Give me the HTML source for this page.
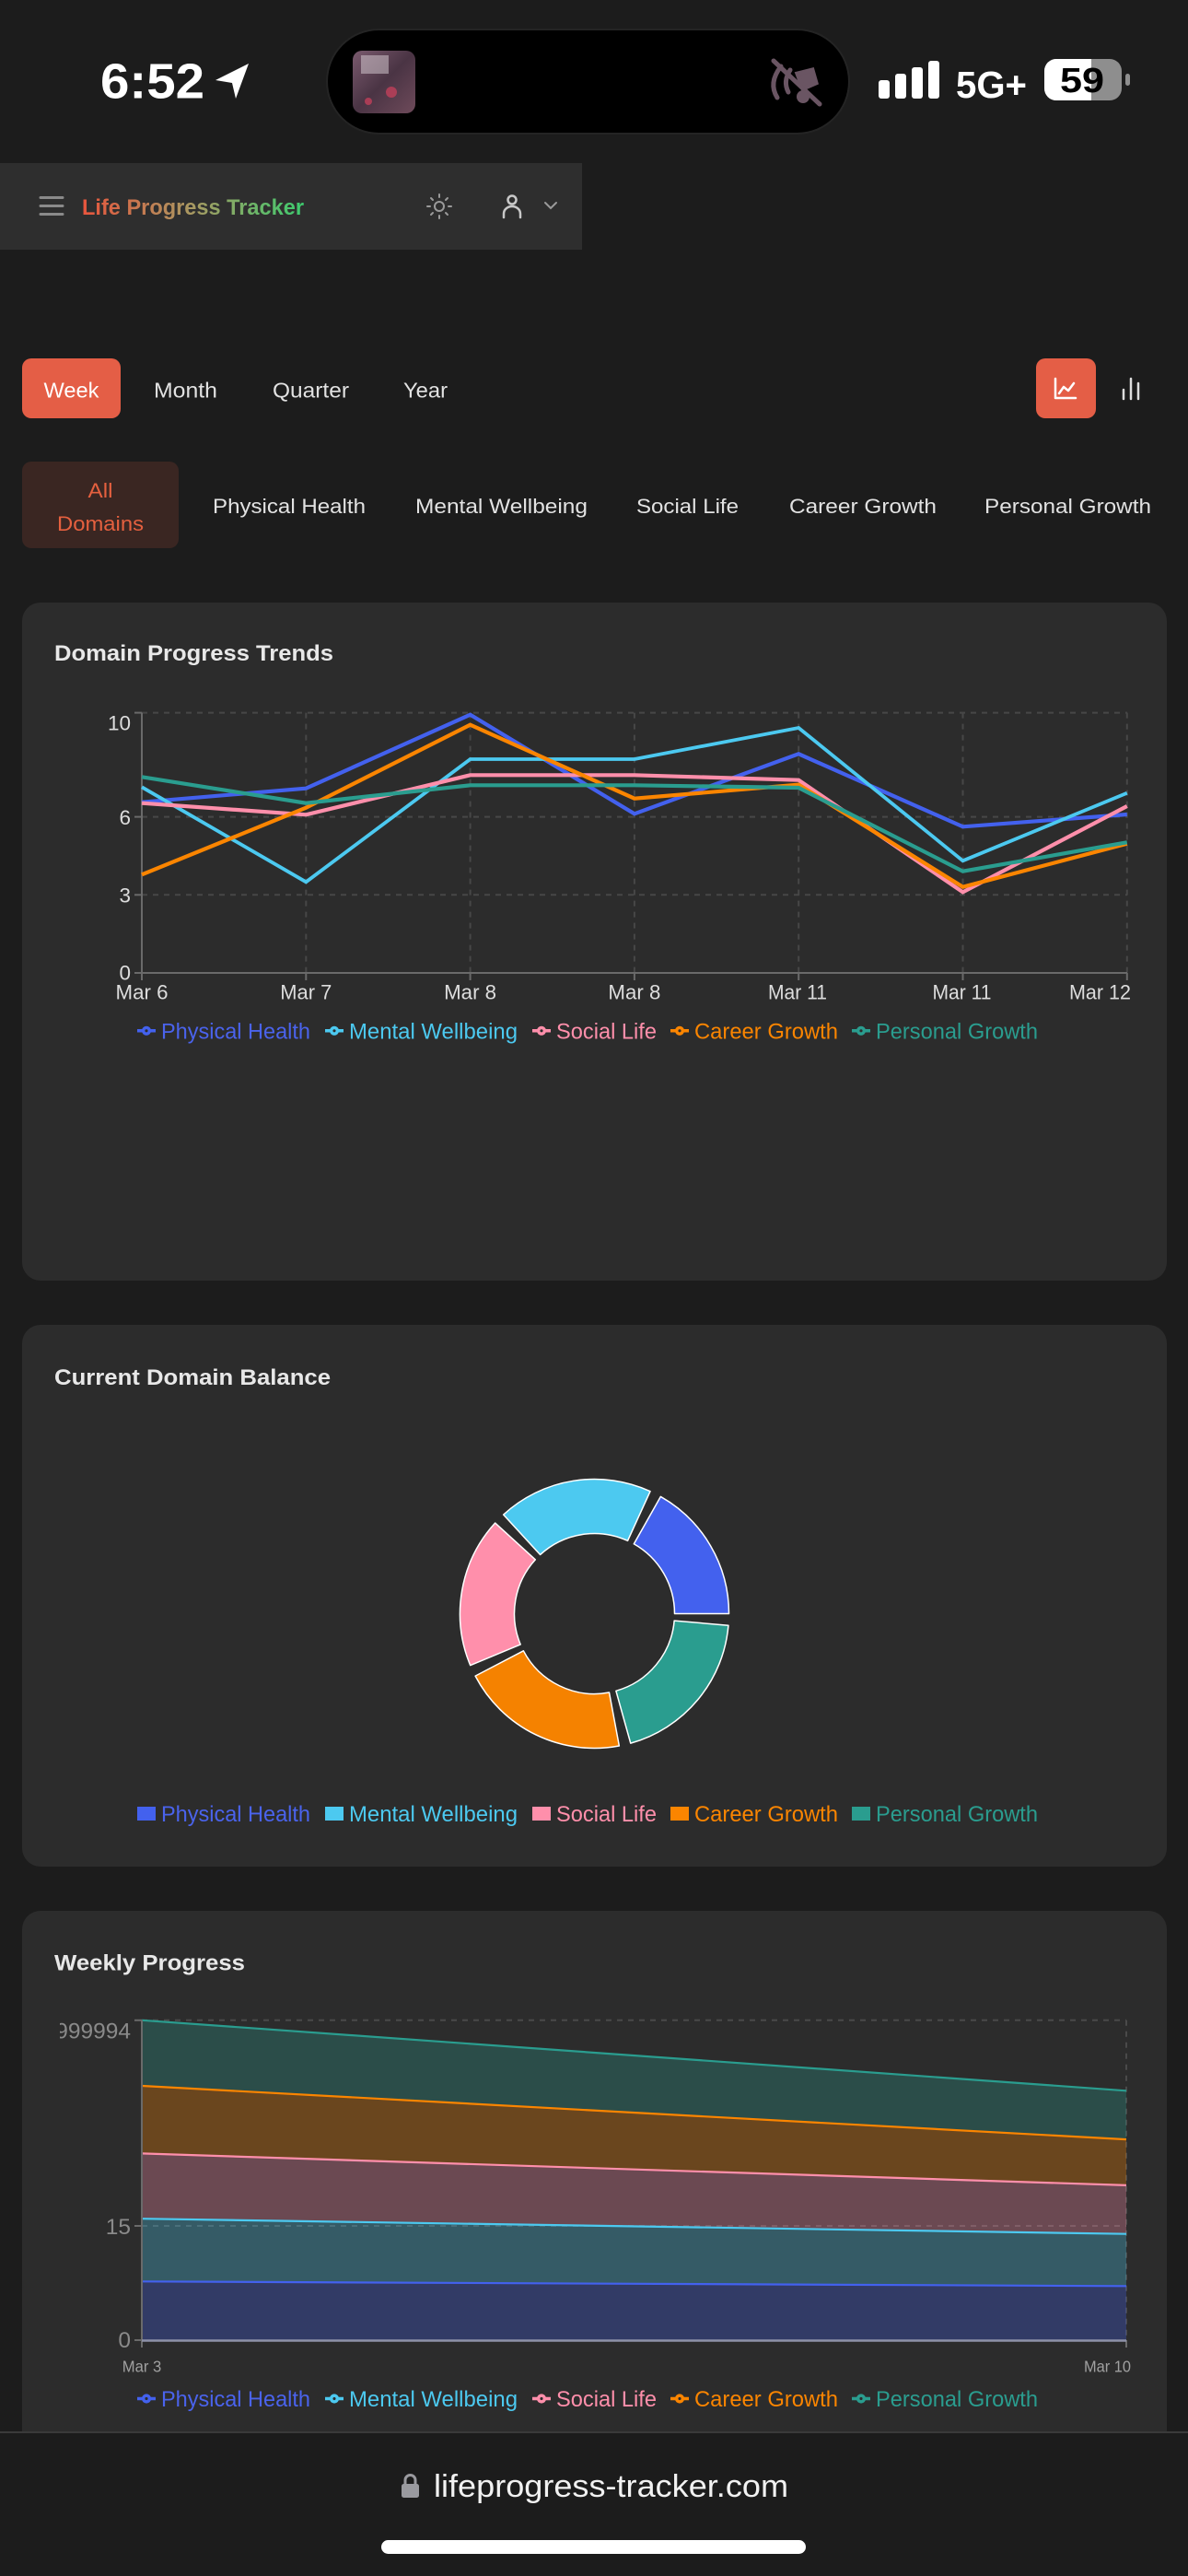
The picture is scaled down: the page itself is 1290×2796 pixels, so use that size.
<!DOCTYPE html>
<html>
<head>
<meta charset="utf-8">
<style>
  html,body{margin:0;padding:0;background:#1c1c1c;}
  body{width:1290px;height:2796px;overflow:hidden;}
  svg{display:block;}
</style>
</head>
<body>
<svg width="1290" height="2796" viewBox="0 0 1290 2796" xmlns="http://www.w3.org/2000/svg" font-family="'Liberation Sans', sans-serif">
  <defs>
    <linearGradient id="tg" gradientUnits="userSpaceOnUse" x1="89" y1="0" x2="330" y2="0">
      <stop offset="0" stop-color="#e8553d"/>
      <stop offset="0.5" stop-color="#a89a62"/>
      <stop offset="1" stop-color="#3dcb6e"/>
    </linearGradient>
    <linearGradient id="art" x1="0" y1="0" x2="1" y2="1">
      <stop offset="0" stop-color="#7a5a6e"/>
      <stop offset="0.5" stop-color="#4a3444"/>
      <stop offset="1" stop-color="#6e4a5a"/>
    </linearGradient>
    <clipPath id="c3"><rect x="65" y="2170" width="1190" height="460"/></clipPath>
  </defs>

  <!-- page bg -->
  <rect x="0" y="0" width="1290" height="2796" fill="#1c1c1c"/>

  <!-- ===== STATUS BAR ===== -->
  <text x="109" y="106.5" font-size="54" font-weight="bold" fill="#ffffff" textLength="113" lengthAdjust="spacingAndGlyphs">6:52</text>
  <polygon points="270,69 234,87 252,90 256,107" fill="#ffffff"/>
  <!-- dynamic island -->
  <rect x="354" y="31" width="569" height="115" rx="57.5" fill="#242424"/>
  <rect x="356" y="33" width="565" height="111" rx="55.5" fill="#000000"/>
  <rect x="383" y="55" width="68" height="68" rx="10" fill="url(#art)"/>
  <rect x="392" y="60" width="30" height="20" fill="#d9cfd6" opacity="0.5"/>
  <circle cx="425" cy="100" r="6" fill="#c0405a" opacity="0.8"/>
  <circle cx="400" cy="110" r="4" fill="#c0405a" opacity="0.8"/>
  <!-- muted icon -->
  <g stroke="#6a5563" stroke-width="5" fill="none" stroke-linecap="round">
    <path d="M848 72 q-14 18 -4 34"/>
    <path d="M858 76 q-8 12 -2 24"/>
    <path d="M866 80 l16 -4 l4 14 l-14 6 z" fill="#6a5563"/>
    <line x1="840" y1="66" x2="890" y2="113"/>
  </g>
  <circle cx="872" cy="105" r="7" fill="#6a5563"/>
  <!-- signal -->
  <rect x="954" y="87" width="12" height="20" rx="3" fill="#fff"/>
  <rect x="972" y="80" width="12" height="27" rx="3" fill="#fff"/>
  <rect x="990" y="73" width="12" height="34" rx="3" fill="#fff"/>
  <rect x="1008" y="66" width="12" height="41" rx="3" fill="#fff"/>
  <text x="1038" y="106" font-size="41" font-weight="bold" fill="#fff" textLength="77" lengthAdjust="spacingAndGlyphs">5G+</text>
  <!-- battery -->
  <rect x="1134" y="64" width="84" height="45" rx="13" fill="#8e8e8e"/>
  <path d="M1147 64 H1185 V109 H1147 A13 13 0 0 1 1134 96 V77 A13 13 0 0 1 1147 64 Z" fill="#ffffff"/>
  <rect x="1222" y="80" width="5" height="13" rx="2.5" fill="#8e8e8e"/>
  <text x="1175" y="100" font-size="38" font-weight="bold" fill="#000" text-anchor="middle" textLength="48" lengthAdjust="spacingAndGlyphs">59</text>

  <!-- ===== HEADER ===== -->
  <rect x="0" y="177" width="632" height="94" fill="#2e2e2e"/>
  <g stroke="#8a8a8a" stroke-width="3" stroke-linecap="round">
    <line x1="44" y1="214.5" x2="68" y2="214.5"/>
    <line x1="44" y1="223.5" x2="68" y2="223.5"/>
    <line x1="44" y1="232.5" x2="68" y2="232.5"/>
  </g>
  <text x="89" y="233" font-size="24.5" font-weight="bold" fill="url(#tg)" textLength="241" lengthAdjust="spacingAndGlyphs">Life Progress Tracker</text>
  <!-- sun -->
  <g stroke="#9a9a9a" stroke-width="2" fill="none" stroke-linecap="round">
    <circle cx="477" cy="224" r="5"/>
    <line x1="477" y1="211" x2="477" y2="214"/>
    <line x1="477" y1="234" x2="477" y2="237"/>
    <line x1="464" y1="224" x2="467" y2="224"/>
    <line x1="487" y1="224" x2="490" y2="224"/>
    <line x1="468" y1="215" x2="470" y2="217"/>
    <line x1="484" y1="231" x2="486" y2="233"/>
    <line x1="486" y1="215" x2="484" y2="217"/>
    <line x1="470" y1="231" x2="468" y2="233"/>
  </g>
  <!-- user -->
  <g stroke="#c8c8c8" stroke-width="2.5" fill="none" stroke-linecap="round">
    <circle cx="556" cy="217" r="4.5"/>
    <path d="M547 236 V232 A9 8 0 0 1 565 232 V236"/>
  </g>
  <polyline points="592,220 598,226 604,220" stroke="#9a9a9a" stroke-width="2" fill="none" stroke-linecap="round"/>

  <!-- ===== PERIOD BUTTONS ===== -->
  <rect x="24" y="389" width="107" height="65" rx="10" fill="#e45e46"/>
  <text x="77.5" y="431.5" font-size="23" fill="#ffffff" text-anchor="middle" textLength="60" lengthAdjust="spacingAndGlyphs">Week</text>
  <text x="167" y="431.5" font-size="23" fill="#e2e2e2" textLength="69" lengthAdjust="spacingAndGlyphs">Month</text>
  <text x="296" y="431.5" font-size="23" fill="#e2e2e2" textLength="83" lengthAdjust="spacingAndGlyphs">Quarter</text>
  <text x="438" y="431.5" font-size="23" fill="#e2e2e2" textLength="48" lengthAdjust="spacingAndGlyphs">Year</text>
  <rect x="1125" y="389" width="65" height="65" rx="10" fill="#e45e46"/>
  <g stroke="#ffffff" stroke-width="2.5" fill="none" stroke-linecap="round" stroke-linejoin="round">
    <polyline points="1146,411 1146,432 1168,432"/>
    <polyline points="1150,427 1155,420 1160,424 1166,416"/>
  </g>
  <g stroke="#dddddd" stroke-width="2.5" stroke-linecap="round">
    <line x1="1220" y1="423" x2="1220" y2="433"/>
    <line x1="1228" y1="411" x2="1228" y2="433"/>
    <line x1="1236" y1="416" x2="1236" y2="433"/>
  </g>

  <!-- ===== DOMAIN FILTERS ===== -->
  <rect x="24" y="501" width="170" height="94" rx="10" fill="#3a2622"/>
  <text x="109" y="540" font-size="22" fill="#e5603f" text-anchor="middle" textLength="27" lengthAdjust="spacingAndGlyphs">All</text>
  <text x="109" y="576" font-size="22" fill="#e5603f" text-anchor="middle" textLength="94" lengthAdjust="spacingAndGlyphs">Domains</text>
  <text x="231" y="557" font-size="22" fill="#e2e2e2" textLength="166" lengthAdjust="spacingAndGlyphs">Physical Health</text>
  <text x="451" y="557" font-size="22" fill="#e2e2e2" textLength="187" lengthAdjust="spacingAndGlyphs">Mental Wellbeing</text>
  <text x="691" y="557" font-size="22" fill="#e2e2e2" textLength="111" lengthAdjust="spacingAndGlyphs">Social Life</text>
  <text x="857" y="557" font-size="22" fill="#e2e2e2" textLength="160" lengthAdjust="spacingAndGlyphs">Career Growth</text>
  <text x="1069" y="557" font-size="22" fill="#e2e2e2" textLength="181" lengthAdjust="spacingAndGlyphs">Personal Growth</text>

  <!-- ===== CARD 1: LINE CHART ===== -->
  <rect x="24" y="654" width="1243" height="736" rx="20" fill="#2c2c2c"/>
  <text x="59" y="717" font-size="24.5" font-weight="bold" fill="#e8e8e8" textLength="303" lengthAdjust="spacingAndGlyphs">Domain Progress Trends</text>

  <!-- grid -->
  <g stroke="#474747" stroke-width="2" stroke-dasharray="6 6" fill="none">
    <line x1="154" y1="773.6" x2="1224" y2="773.6"/>
    <line x1="154" y1="886.6" x2="1224" y2="886.6"/>
    <line x1="154" y1="971.3" x2="1224" y2="971.3"/>
    <line x1="332.3" y1="773.6" x2="332.3" y2="1056"/>
    <line x1="510.6" y1="773.6" x2="510.6" y2="1056"/>
    <line x1="688.9" y1="773.6" x2="688.9" y2="1056"/>
    <line x1="867.2" y1="773.6" x2="867.2" y2="1056"/>
    <line x1="1045.5" y1="773.6" x2="1045.5" y2="1056"/>
    <line x1="1223.8" y1="773.6" x2="1223.8" y2="1056"/>
  </g>
  <!-- axes -->
  <g stroke="#6a6a6a" stroke-width="2">
    <line x1="154" y1="773.6" x2="154" y2="1056"/>
    <line x1="154" y1="1056" x2="1224" y2="1056"/>
    <line x1="146" y1="773.6" x2="154" y2="773.6"/>
    <line x1="146" y1="886.6" x2="154" y2="886.6"/>
    <line x1="146" y1="971.3" x2="154" y2="971.3"/>
    <line x1="146" y1="1056" x2="154" y2="1056"/>
    <line x1="154" y1="1056" x2="154" y2="1064"/>
    <line x1="332.3" y1="1056" x2="332.3" y2="1064"/>
    <line x1="510.6" y1="1056" x2="510.6" y2="1064"/>
    <line x1="688.9" y1="1056" x2="688.9" y2="1064"/>
    <line x1="867.2" y1="1056" x2="867.2" y2="1064"/>
    <line x1="1045.5" y1="1056" x2="1045.5" y2="1064"/>
    <line x1="1223.8" y1="1056" x2="1223.8" y2="1064"/>
  </g>
  <!-- y tick labels -->
  <g font-size="22.5" fill="#dddddd" text-anchor="end">
    <text x="142" y="792.7">10</text>
    <text x="142" y="895">6</text>
    <text x="142" y="979.5">3</text>
    <text x="142" y="1063.5">0</text>
  </g>
  <!-- x tick labels -->
  <g font-size="22" fill="#dddddd" text-anchor="middle">
    <text x="154" y="1084.5" textLength="57" lengthAdjust="spacingAndGlyphs">Mar 6</text>
    <text x="332.3" y="1084.5" textLength="56" lengthAdjust="spacingAndGlyphs">Mar 7</text>
    <text x="510.6" y="1084.5" textLength="57" lengthAdjust="spacingAndGlyphs">Mar 8</text>
    <text x="688.9" y="1084.5" textLength="57" lengthAdjust="spacingAndGlyphs">Mar 8</text>
    <text x="866" y="1084.5" textLength="64" lengthAdjust="spacingAndGlyphs">Mar 11</text>
    <text x="1044.5" y="1084.5" textLength="64" lengthAdjust="spacingAndGlyphs">Mar 11</text>
    <text x="1228" y="1084.5" text-anchor="end" textLength="67" lengthAdjust="spacingAndGlyphs">Mar 12</text>
  </g>
  <!-- series -->
  <g fill="none" stroke-width="4.2">
    <polyline stroke="#4361ee" points="154,870.7 332.3,855.7 510.6,775.7 688.9,883.3 867.2,818.3 1045.5,897.3 1223.8,884"/>
    <polyline stroke="#4cc9f0" stroke-width="3.8" points="154,854.3 332.3,957.3 510.6,824 688.9,824 867.2,790 1045.5,934.3 1223.8,860.7"/>
    <polyline stroke="#ff8fab" points="154,871.7 332.3,884.3 510.6,841.3 688.9,841.3 867.2,846.7 1045.5,968.3 1223.8,875"/>
    <polyline stroke="#fb8500" points="154,949.3 332.3,876.7 510.6,786.7 688.9,866.7 867.2,851.7 1045.5,962.7 1223.8,915.7"/>
    <polyline stroke="#2a9d8f" points="154,843.3 332.3,871.7 510.6,852.3 688.9,852.3 867.2,855 1045.5,945.7 1223.8,914.3"/>
  </g>
  <!-- legend 1 -->
  <g fill="none" stroke-width="3.5">
    <path stroke="#4361ee" d="M149 1118.8 h6.67 A3.33 3.33 0 1 1 162.33 1118.8 H169 M162.33 1118.8 A3.33 3.33 0 1 1 155.67 1118.8"/>
    <path stroke="#4cc9f0" d="M353 1118.8 h6.67 A3.33 3.33 0 1 1 366.33 1118.8 H373 M366.33 1118.8 A3.33 3.33 0 1 1 359.67 1118.8"/>
    <path stroke="#ff8fab" d="M578 1118.8 h6.67 A3.33 3.33 0 1 1 591.33 1118.8 H598 M591.33 1118.8 A3.33 3.33 0 1 1 584.67 1118.8"/>
    <path stroke="#fb8500" d="M728 1118.8 h6.67 A3.33 3.33 0 1 1 741.33 1118.8 H748 M741.33 1118.8 A3.33 3.33 0 1 1 734.67 1118.8"/>
    <path stroke="#2a9d8f" d="M925 1118.8 h6.67 A3.33 3.33 0 1 1 938.33 1118.8 H945 M938.33 1118.8 A3.33 3.33 0 1 1 931.67 1118.8"/>
  </g>
  <g font-size="24">
    <text x="175" y="1127.3" fill="#4a63ec" textLength="162" lengthAdjust="spacingAndGlyphs">Physical Health</text>
    <text x="379" y="1127.3" fill="#4cc9f0" textLength="183" lengthAdjust="spacingAndGlyphs">Mental Wellbeing</text>
    <text x="604" y="1127.3" fill="#ff8fab" textLength="109" lengthAdjust="spacingAndGlyphs">Social Life</text>
    <text x="754" y="1127.3" fill="#fb8500" textLength="156" lengthAdjust="spacingAndGlyphs">Career Growth</text>
    <text x="951" y="1127.3" fill="#2a9d8f" textLength="176" lengthAdjust="spacingAndGlyphs">Personal Growth</text>
  </g>

  <!-- ===== CARD 2: DONUT ===== -->
  <rect x="24" y="1438" width="1243" height="588" rx="20" fill="#2c2c2c"/>
  <text x="59" y="1503" font-size="24.5" font-weight="bold" fill="#e8e8e8" textLength="300" lengthAdjust="spacingAndGlyphs">Current Domain Balance</text>
  <g stroke="#ffffff" stroke-width="1.5" stroke-linejoin="round">
    <path fill="#4361ee" d="M791.5 1751.5 A146 146 0 0 0 717.39 1624.42 L688.34 1675.78 A87 87 0 0 1 732.5 1751.5 Z"/>
    <path fill="#4cc9f0" d="M706.05 1618.64 A146 146 0 0 0 546.67 1644.03 L586.61 1687.46 A87 87 0 0 1 681.58 1672.33 Z"/>
    <path fill="#ff8fab" d="M537.69 1653.05 A146 146 0 0 0 510.71 1807.61 L565.18 1784.93 A87 87 0 0 1 581.26 1692.84 Z"/>
    <path fill="#f58200" d="M516.11 1819.14 A146 146 0 0 0 672.36 1895.00 L661.51 1837.01 A87 87 0 0 1 568.40 1791.81 Z"/>
    <path fill="#2a9d8f" d="M684.76 1892.13 A146 146 0 0 0 790.95 1764.23 L732.17 1759.09 A87 87 0 0 1 668.89 1835.30 Z"/>
  </g>
  <!-- legend 2 -->
  <rect x="149" y="1961" width="20" height="15" fill="#4361ee"/>
  <rect x="353" y="1961" width="20" height="15" fill="#4cc9f0"/>
  <rect x="578" y="1961" width="20" height="15" fill="#ff8fab"/>
  <rect x="728" y="1961" width="20" height="15" fill="#fb8500"/>
  <rect x="925" y="1961" width="20" height="15" fill="#2a9d8f"/>
  <g font-size="24">
    <text x="175" y="1977" fill="#4a63ec" textLength="162" lengthAdjust="spacingAndGlyphs">Physical Health</text>
    <text x="379" y="1977" fill="#4cc9f0" textLength="183" lengthAdjust="spacingAndGlyphs">Mental Wellbeing</text>
    <text x="604" y="1977" fill="#ff8fab" textLength="109" lengthAdjust="spacingAndGlyphs">Social Life</text>
    <text x="754" y="1977" fill="#fb8500" textLength="156" lengthAdjust="spacingAndGlyphs">Career Growth</text>
    <text x="951" y="1977" fill="#2a9d8f" textLength="176" lengthAdjust="spacingAndGlyphs">Personal Growth</text>
  </g>

  <!-- ===== CARD 3: STACKED AREA ===== -->
  <rect x="24" y="2074" width="1243" height="640" rx="20" fill="#2c2c2c"/>
  <text x="59" y="2138.5" font-size="24.5" font-weight="bold" fill="#e8e8e8" textLength="207" lengthAdjust="spacingAndGlyphs">Weekly Progress</text>
  <!-- grid -->
  <g stroke="#4a4a4a" stroke-width="2" stroke-dasharray="6 6" fill="none">
    <line x1="154" y1="2192.8" x2="1223" y2="2192.8"/>
    <line x1="154" y1="2416" x2="1223" y2="2416"/>
    <line x1="1223" y1="2192.8" x2="1223" y2="2540"/>
  </g>
  <!-- areas -->
  <g fill-opacity="0.3">
    <polygon fill="#4361ee" points="154.2,2540.2 154.2,2476.3 1223,2481.3 1223,2540.2"/>
    <polygon fill="#4cc9f0" points="154.2,2476.3 154.2,2408.2 1223,2424.7 1223,2481.3"/>
    <polygon fill="#ff8fab" points="154.2,2408.2 154.2,2337.4 1223,2371.9 1223,2424.7"/>
    <polygon fill="#fb8500" points="154.2,2337.4 154.2,2264 1223,2322.1 1223,2371.9"/>
    <polygon fill="#2a9d8f" points="154.2,2264 154.2,2192.8 1223,2269.3 1223,2322.1"/>
  </g>
  <g fill="none" stroke-width="2.2">
    <line stroke="#4361ee" x1="154.2" y1="2476.3" x2="1223" y2="2481.3"/>
    <line stroke="#4cc9f0" x1="154.2" y1="2408.2" x2="1223" y2="2424.7"/>
    <line stroke="#ff8fab" x1="154.2" y1="2337.4" x2="1223" y2="2371.9"/>
    <line stroke="#fb8500" x1="154.2" y1="2264" x2="1223" y2="2322.1"/>
    <line stroke="#2a9d8f" x1="154.2" y1="2192.8" x2="1223" y2="2269.3"/>
  </g>
  <!-- axes -->
  <g stroke="#6a6a6a" stroke-width="2">
    <line x1="154" y1="2192.8" x2="154" y2="2541"/>
    <line x1="146" y1="2192.8" x2="154" y2="2192.8"/>
    <line x1="146" y1="2416" x2="154" y2="2416"/>
    <line x1="146" y1="2540" x2="154" y2="2540"/>
    <line x1="154" y1="2540" x2="154" y2="2548"/>
    <line x1="1223" y1="2540" x2="1223" y2="2548"/>
  </g>
  <line x1="154" y1="2540.5" x2="1223" y2="2540.5" stroke="#8e92a8" stroke-width="2.5"/>
  <g font-size="24.5" fill="#8a8a8a" text-anchor="end" clip-path="url(#c3)">
    <text x="142" y="2212.7">41.99999999999994</text>
    <text x="142" y="2425">15</text>
    <text x="142" y="2548">0</text>
  </g>
  <g font-size="17.5" fill="#a0a0a0">
    <text x="154" y="2574.5" text-anchor="middle" textLength="42.5" lengthAdjust="spacingAndGlyphs">Mar 3</text>
    <text x="1228" y="2574.5" text-anchor="end" textLength="51" lengthAdjust="spacingAndGlyphs">Mar 10</text>
  </g>
  <!-- legend 3 -->
  <g fill="none" stroke-width="3.5">
    <path stroke="#4361ee" d="M149 2603.5 h6.67 A3.33 3.33 0 1 1 162.33 2603.5 H169 M162.33 2603.5 A3.33 3.33 0 1 1 155.67 2603.5"/>
    <path stroke="#4cc9f0" d="M353 2603.5 h6.67 A3.33 3.33 0 1 1 366.33 2603.5 H373 M366.33 2603.5 A3.33 3.33 0 1 1 359.67 2603.5"/>
    <path stroke="#ff8fab" d="M578 2603.5 h6.67 A3.33 3.33 0 1 1 591.33 2603.5 H598 M591.33 2603.5 A3.33 3.33 0 1 1 584.67 2603.5"/>
    <path stroke="#fb8500" d="M728 2603.5 h6.67 A3.33 3.33 0 1 1 741.33 2603.5 H748 M741.33 2603.5 A3.33 3.33 0 1 1 734.67 2603.5"/>
    <path stroke="#2a9d8f" d="M925 2603.5 h6.67 A3.33 3.33 0 1 1 938.33 2603.5 H945 M938.33 2603.5 A3.33 3.33 0 1 1 931.67 2603.5"/>
  </g>
  <g font-size="24">
    <text x="175" y="2612" fill="#4a63ec" textLength="162" lengthAdjust="spacingAndGlyphs">Physical Health</text>
    <text x="379" y="2612" fill="#4cc9f0" textLength="183" lengthAdjust="spacingAndGlyphs">Mental Wellbeing</text>
    <text x="604" y="2612" fill="#ff8fab" textLength="109" lengthAdjust="spacingAndGlyphs">Social Life</text>
    <text x="754" y="2612" fill="#fb8500" textLength="156" lengthAdjust="spacingAndGlyphs">Career Growth</text>
    <text x="951" y="2612" fill="#2a9d8f" textLength="176" lengthAdjust="spacingAndGlyphs">Personal Growth</text>
  </g>

  <!-- ===== SAFARI BOTTOM BAR ===== -->
  <rect x="0" y="2640" width="1290" height="156" fill="#1c1c1c"/>
  <line x1="0" y1="2640" x2="1290" y2="2640" stroke="#3a3a3a" stroke-width="2"/>
  <path d="M440 2697 V2692 A5.5 5.5 0 0 1 451 2692 V2697" stroke="#9a9a9f" stroke-width="3" fill="none"/>
  <rect x="436" y="2696" width="19" height="15" rx="2.5" fill="#9a9a9f"/>
  <text x="471" y="2710" font-size="34" fill="#f2f2f2" textLength="385" lengthAdjust="spacingAndGlyphs">lifeprogress-tracker.com</text>
  <rect x="414" y="2757" width="461" height="15" rx="7.5" fill="#ffffff"/>
</svg>
</body>
</html>
